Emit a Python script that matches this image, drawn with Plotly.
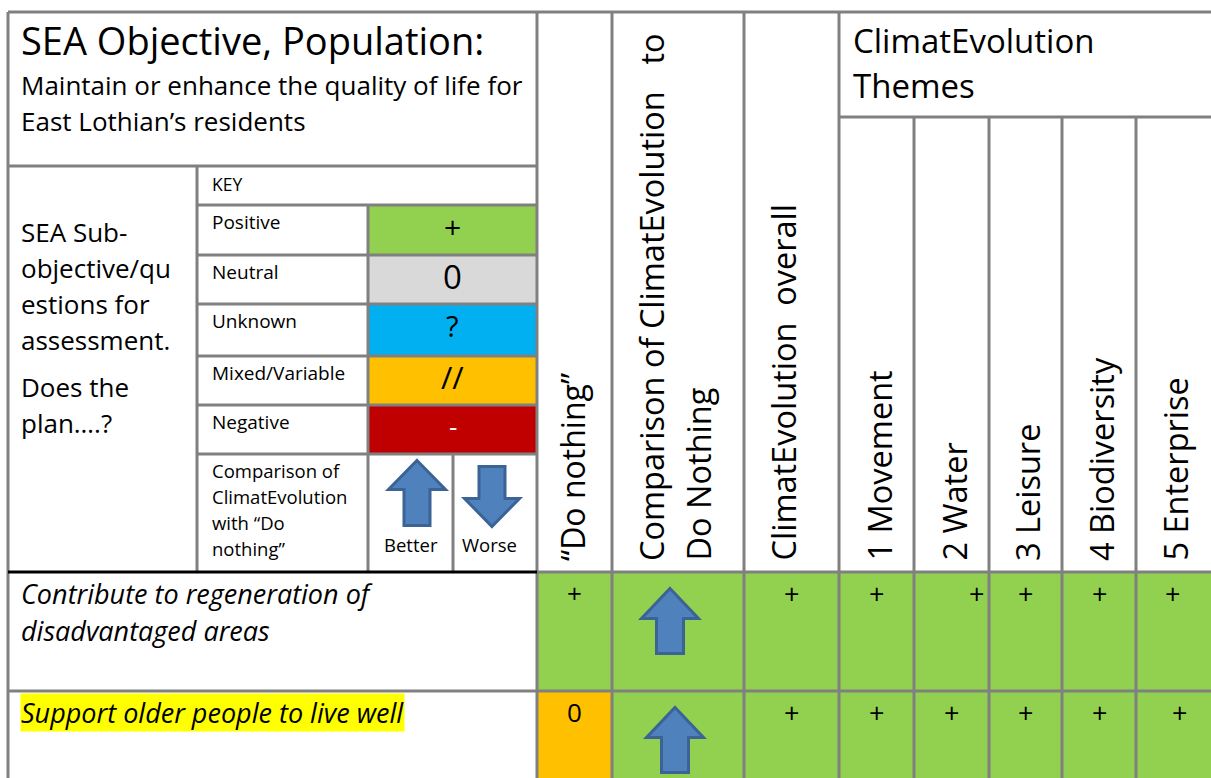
import plotly.graph_objects as go

# ---------------- data ----------------
title_main = "SEA Objective, Population:"
title_sub = ["Maintain or enhance the quality of life for", "East Lothian’s residents"]
sub_obj_lines = ["SEA Sub-", "objective/qu", "estions for", "assessment."]
does_lines = ["Does the", "plan….?"]
key_title = "KEY"
key_labels = ["Positive", "Neutral", "Unknown", "Mixed/Variable", "Negative"]
key_symbols = ["+", "0", "?", "//", "-"]
key_colors = ["#92D050", "#D9D9D9", "#00B0F0", "#FFC000", "#C00000"]
key_symbol_colors = ["black", "black", "black", "black", "white"]
key_symbol_sizes = [30, 33, 29, 31, 26]
comparison_key_label = ["Comparison of", "ClimatEvolution", "with “Do", "nothing”"]
comparison_key = ["Better", "Worse"]
col_do_nothing = "“Do nothing”"
col_comparison = ["Comparison of ClimatEvolution", "to", "Do Nothing"]
col_overall = "ClimatEvolution  overall"
themes_title = ["ClimatEvolution", "Themes"]
theme_names = ["1 Movement", "2 Water", "3 Leisure", "4 Biodiversity", "5 Enterprise"]
row_labels = [["Contribute to regeneration of", "disadvantaged areas"],
              ["Support older people to live well"]]
row_highlight = [False, True]
do_nothing = ["+", "0"]
do_nothing_category = ["Positive", "Mixed/Variable"]
comparison = ["Better", "Better"]
overall = ["+", "+"]
theme_values = [["+", "+", "+", "+", "+"],
                ["+", "+", "+", "+", "+"]]
theme_align = [["center", "right", "center", "center", "center"],
               ["center", "center", "center", "center", "center"]]
theme_dx = [[0, 0, 0, 0, 0],
            [0, 0, 0, 0, 7]]

# ---------------- layout geometry ----------------
W, H = 1211, 778
FONT = "Open Sans"
GRID = "#808080"
LW = 3
X0, Y0 = 8, 12
X_LEFT_DIV = 197
X_KEY_DIV = 368
X_BW_DIV = 453
X_COLS = [537, 612, 744, 839, 914, 989, 1062, 1136, 1215]
Y_TITLE_BOT = 166
Y_THEMES = 117
Y_KEY = [166, 205, 255, 304, 356, 405, 454, 572]
Y_HEAD_BOT = 572
Y_ROWS = [572, 691, 785]
ARROW_FILL = "#4F81BD"
ARROW_LINE = "#3B6395"

shapes = []
ann = []


def rect(x0, y0, x1, y1, color):
    shapes.append(dict(type="rect", x0=x0, y0=y0, x1=x1, y1=y1, fillcolor=color,
                       line=dict(width=0), layer="below"))


def line(x0, y0, x1, y1, color=GRID, width=LW):
    shapes.append(dict(type="line", x0=x0, y0=y0, x1=x1, y1=y1,
                       line=dict(color=color, width=width)))


def text(x, y, s, size, xanchor="left", yanchor="middle", angle=0, color="black",
         italic=False, bg=None):
    d = dict(x=x, y=y, text=s, showarrow=False, xanchor=xanchor, yanchor=yanchor,
             textangle=angle, font=dict(family=FONT, size=size, color=color,
                                        style="italic" if italic else "normal"),
             borderpad=0)
    if bg:
        d["bgcolor"] = bg
    ann.append(d)


def arrow(cx, top, bottom, head_w, shaft_w, head_h, up=True):
    # outer extents given; inset by half the stroke
    top, bottom = top + 1.5, bottom - 1.5
    hw, sw = head_w / 2 - 1.5, shaft_w / 2 - 1.5
    if up:
        hb = top + head_h
        p = (f"M {cx} {top} L {cx + hw} {hb} L {cx + sw} {hb} L {cx + sw} {bottom} "
             f"L {cx - sw} {bottom} L {cx - sw} {hb} L {cx - hw} {hb} Z")
    else:
        hb = bottom - head_h
        p = (f"M {cx} {bottom} L {cx + hw} {hb} L {cx + sw} {hb} L {cx + sw} {top} "
             f"L {cx - sw} {top} L {cx - sw} {hb} L {cx - hw} {hb} Z")
    shapes.append(dict(type="path", path=p, fillcolor=ARROW_FILL,
                       line=dict(color=ARROW_LINE, width=3)))


cat_color = dict(zip(key_labels, key_colors))

# ---------------- fills ----------------
for i, c in enumerate(key_colors):
    rect(X_KEY_DIV, Y_KEY[i + 1], X_COLS[0], Y_KEY[i + 2], c)

for r in range(len(row_labels)):
    ya, yb = Y_ROWS[r], Y_ROWS[r + 1]
    rect(X_COLS[0], ya, X_COLS[1], yb, cat_color[do_nothing_category[r]])
    rect(X_COLS[1], ya, X_COLS[-1], yb, cat_color["Positive"])

# ---------------- grid ----------------
line(X0, Y0, X_COLS[-1], Y0)
line(X0, Y0, X0, H + 8)
line(X0, Y_TITLE_BOT, X_COLS[0], Y_TITLE_BOT)
for x in X_COLS[:4]:
    line(x, Y0, x, H + 8)
line(X_COLS[3], Y_THEMES, X_COLS[-1], Y_THEMES)
for x in X_COLS[4:8]:
    line(x, Y_THEMES, x, H + 8)
line(X_LEFT_DIV, Y_TITLE_BOT, X_LEFT_DIV, Y_HEAD_BOT)
for y in Y_KEY[1:-1]:
    line(X_LEFT_DIV, y, X_COLS[0], y)
line(X_KEY_DIV, Y_KEY[1], X_KEY_DIV, Y_HEAD_BOT)
line(X_BW_DIV, Y_KEY[-2], X_BW_DIV, Y_HEAD_BOT)
line(X_COLS[0], Y_HEAD_BOT, X_COLS[-1], Y_HEAD_BOT)
line(X0, Y_HEAD_BOT, X_COLS[0], Y_HEAD_BOT, color="black", width=3)
line(X0, Y_ROWS[1], X_COLS[-1], Y_ROWS[1])

# ---------------- title block ----------------
text(20, 40, title_main, 38)
for i, s in enumerate(title_sub):
    text(20, 85 + 36 * i, s, 26)

for i, s in enumerate(sub_obj_lines):
    text(20, 232 + 36 * i, s, 26)
for i, s in enumerate(does_lines):
    text(20, 387 + 36 * i, s, 26)

# ---------------- key ----------------
text(211, 184, key_title, 17.5)
for i, (lab, sym) in enumerate(zip(key_labels, key_symbols)):
    ya = Y_KEY[i + 1]
    text(211, ya + 17, lab, 19)
    text((X_KEY_DIV + X_COLS[0]) / 2, ya + 21, sym, key_symbol_sizes[i], xanchor="center",
         color=key_symbol_colors[i])
for i, s in enumerate(comparison_key_label):
    text(211, 470 + 26 * i, s, 18.5)
arrow((X_KEY_DIV + X_BW_DIV) / 2 + 6.5, 459, 527, 60, 29, 29, up=True)
arrow((X_BW_DIV + X_COLS[0]) / 2 - 3, 465, 528, 58, 29, 28, up=False)
text((X_KEY_DIV + X_BW_DIV) / 2, 544, comparison_key[0], 18.5, xanchor="center")
text((X_BW_DIV + X_COLS[0]) / 2 - 6, 544, comparison_key[1], 18.5, xanchor="center")

# ---------------- column headers ----------------
YB = 562
HS = 32.5
text(572, YB, col_do_nothing, 32, xanchor="center", yanchor="bottom", angle=-90)
text(651, YB, col_comparison[0], HS, xanchor="center", yanchor="bottom", angle=-90)
text(651, 33, col_comparison[1], HS, xanchor="center", yanchor="top", angle=-90)
text(698, YB, col_comparison[2], HS, xanchor="center", yanchor="bottom", angle=-90)
text(783, YB, col_overall, HS, xanchor="center", yanchor="bottom", angle=-90)
text(852, 40, themes_title[0], 33)
text(852, 85, themes_title[1], 33)
for j, name in enumerate(theme_names):
    xc = (X_COLS[3 + j] + X_COLS[4 + j]) / 2 + 2
    if j == 4:
        xc = 1175
    text(xc, YB, name, HS, xanchor="center", yanchor="bottom", angle=-90)

# ---------------- rows ----------------
for r, labs in enumerate(row_labels):
    ya = Y_ROWS[r]
    for i, s in enumerate(labs):
        text(20, ya + 21 + 37 * i, s, 27, italic=True,
             bg="#FFFF00" if row_highlight[r] else None)
    text((X_COLS[0] + X_COLS[1]) / 2, ya + 21, do_nothing[r], 26, xanchor="center")
    ax = (X_COLS[1] + X_COLS[2]) / 2 - 8 + 5 * r
    if comparison[r] == "Better":
        arrow(ax, ya + 15, ya + 83, 60, 30, 30, up=True)
    else:
        arrow(ax, ya + 15, ya + 83, 60, 30, 30, up=False)
    text((X_COLS[2] + X_COLS[3]) / 2, ya + 21, overall[r], 27, xanchor="center")
    for j, v in enumerate(theme_values[r]):
        x_a, x_b = X_COLS[3 + j], X_COLS[4 + j]
        if j == 4:
            x_b = 1209
        if theme_align[r][j] == "right":
            text(x_b - 4 + theme_dx[r][j], ya + 21, v, 27, xanchor="right")
        else:
            text((x_a + x_b) / 2 + theme_dx[r][j], ya + 21, v, 27, xanchor="center")

fig = go.Figure()
fig.update_layout(
    width=W, height=H, margin=dict(l=0, r=0, t=0, b=0),
    paper_bgcolor="white", plot_bgcolor="white",
    xaxis=dict(range=[0, W], visible=False, fixedrange=True),
    yaxis=dict(range=[H, 0], visible=False, fixedrange=True),
    shapes=shapes, annotations=ann, showlegend=False,
)
fig.write_html("out.html",
               config={"displayModeBar": False},
               post_script="document.body.style.margin='0';"
                           "document.body.style.overflow='hidden';")
